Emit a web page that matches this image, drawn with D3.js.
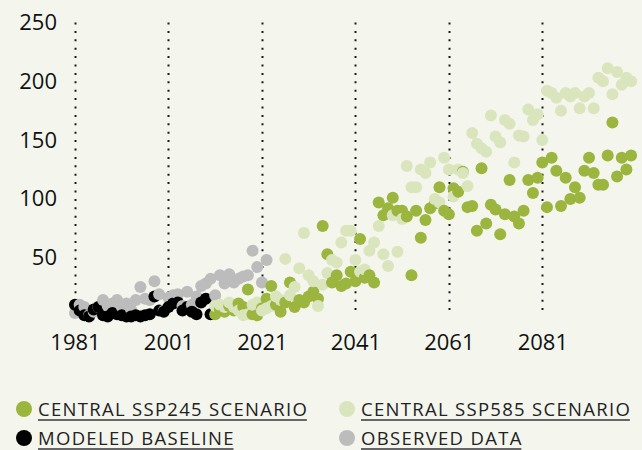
<!DOCTYPE html>
<html>
<head>
<meta charset="utf-8">
<script src="https://cdn.jsdelivr.net/npm/d3@7"></script>
<style>
  html, body { margin: 0; padding: 0; background: #f4f6ee; }
  svg { display: block; font-family: "Open Sans", "Lato", sans-serif; }
</style>
</head>
<body>
<svg id="chart" width="642" height="450"></svg>
<script>
// ---- data ----
const xTicks = [1981, 2001, 2021, 2041, 2061, 2081];
const yTicks = [50, 100, 150, 200, 250];

const observedStart = 1981;
const observedValues = [3,10,8,1,4,8,14,9,11,14, 8,11,6,14,25,15,14,30,19,5,
  16,18,19,9,21,10,17,26,28,32, 18,35,28,36,29,32,34,35,56,42, 29,48];

const baselineStart = 1981;
const baselineValues = [10,5,1,0,6,8,1,0,3,2, 1,0,0,1,0,1,2,17,5,4,
  8,11,12,5,8,4,2,12,15,2];

const ssp245Start = 2011;
const ssp245Values = [2,6,4,9,5,11,8,23,2,1, 7,15,26,10,4,12,29,8,14,12,
  17,21,15,77,53,29,35,26,28,38, 30,66,33,35,29,97,86,92,101,90,
  90,85,35,90,67,82,92,96,110,90, 87,109,106,123,93,94,73,126,79,95,
  91,70,87,116,85,79,90,116,105,118, 131,93,135,124,94,118,100,110,101,124,
  135,122,112,112,137,165,119,135,125,137];

const ssp585Start = 2011;
const ssp585Values = [9,10,8,12,8,5,1,2,10,12, 5,7,9,17,14,49,18,25,41,71,
  35,30,9,27,37,48,46,63,73,73, 48,38,40,56,63,77,53,43,86,55,
  83,128,110,110,125,122,131,100,97,135, 125,102,125,122,111,156,147,143,140,171,
  153,148,167,164,131,154,153,176,167,172, 150,192,190,186,175,190,187,190,177,187,
  190,177,203,200,211,189,208,197,203,200];

const seriesNames = ["observed", "baseline", "ssp245", "ssp585"];
const seriesColors = ["#bcbcbc", "#000000", "#9bb53e", "#dbe5bd"];
const legendLabels = ["CENTRAL SSP245 SCENARIO", "CENTRAL SSP585 SCENARIO", "MODELED BASELINE", "OBSERVED DATA"];
const legendSeries = ["ssp245", "ssp585", "baseline", "observed"];

// ---- chart ----
const svg = d3.select("#chart");
const color = d3.scaleOrdinal().domain(seriesNames).range(seriesColors);

const x = d3.scaleLinear().domain([1981, 2081]).range([75, 542.3]);
const y = d3.scaleLinear().domain([0, 250]).range([316.5, 22.5]);

// dotted vertical gridlines
svg.append("g").selectAll("line").data(xTicks).join("line")
  .attr("x1", d => Math.round(x(d)) + 0.5).attr("x2", d => Math.round(x(d)) + 0.5)
  .attr("y1", y(250)).attr("y2", y(5))
  .attr("stroke", "#1a1a1a").attr("stroke-width", 2)
  .attr("stroke-dasharray", "2,6.4");

// points
function toPoints(name, start, values) {
  return values.map((v, i) => ({ series: name, year: start + i, value: v }));
}
const points = [].concat(
  toPoints("observed", observedStart, observedValues),
  toPoints("baseline", baselineStart, baselineValues),
  toPoints("ssp245", ssp245Start, ssp245Values),
  toPoints("ssp585", ssp585Start, ssp585Values)
).sort((a, b) => a.year - b.year);

svg.append("g").selectAll("circle").data(points).join("circle")
  .attr("cx", d => x(d.year)).attr("cy", d => y(d.value))
  .attr("r", 6).attr("fill", d => color(d.series));

// axes
const yAxis = svg.append("g").attr("transform", "translate(57,0)")
  .call(d3.axisLeft(y).tickValues(yTicks).tickSize(0).tickPadding(0));
yAxis.select(".domain").remove();
yAxis.selectAll("text").attr("font-size", 22).attr("font-weight", 500).attr("fill", "#111")
  .attr("font-family", "'Open Sans', sans-serif");

const xAxis = svg.append("g").attr("transform", "translate(0,334)")
  .call(d3.axisBottom(x).tickValues(xTicks).tickFormat(d3.format("d")).tickSize(0).tickPadding(0));
xAxis.select(".domain").remove();
xAxis.selectAll("text").attr("font-size", 22).attr("font-weight", 500).attr("fill", "#111")
  .attr("font-family", "'Open Sans', sans-serif");

// legend
const legendPos = [[24, 409], [347, 409], [24, 438], [347, 438]];
const lg = svg.append("g").selectAll("g").data(legendLabels).join("g")
  .attr("transform", (d, i) => `translate(${legendPos[i][0]},${legendPos[i][1]})`);
lg.append("circle").attr("r", 8).attr("fill", (d, i) => color(legendSeries[i]));
lg.append("text").attr("x", 14).attr("y", 7)
  .attr("font-size", 18.5).attr("letter-spacing", 1.3).attr("fill", "#222").text(d => d);
lg.each(function() {
  const g = d3.select(this);
  const w = g.select("text").node().getComputedTextLength();
  g.append("line").attr("x1", 14).attr("x2", 14 + w - 1.3).attr("y1", 11).attr("y2", 11)
    .attr("stroke", "#666").attr("stroke-width", 1.8);
});
</script>
</body>
</html>
